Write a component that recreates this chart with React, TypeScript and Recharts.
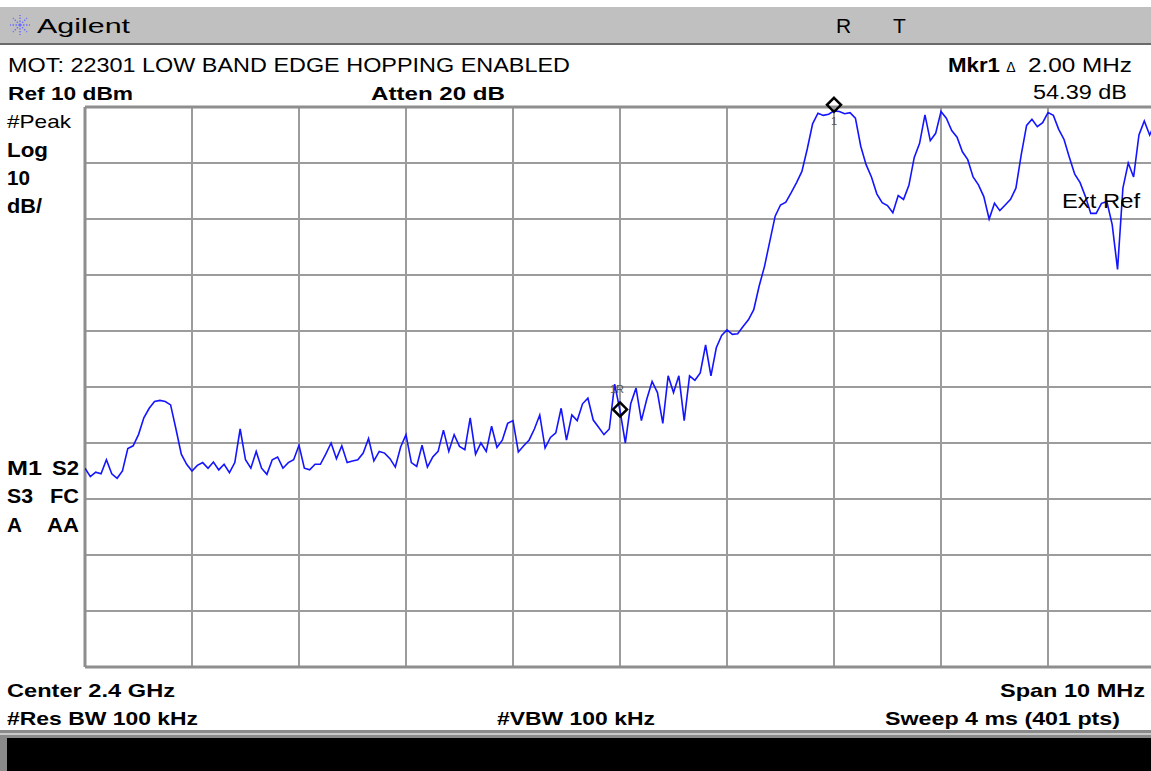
import React from 'react';
import { LineChart, Line, XAxis, YAxis, CartesianGrid, ReferenceDot, ReferenceLine } from 'recharts';

// sweep: center 2.4 GHz, span 10 MHz, read every 0.05 MHz
const startMHz = 2395;
const stepMHz = 0.05;

const traceDbm = [
  -54.5, -56, -55.2, -55.5, -53, -55.5, -56.3, -55, -51, -50.5,
  -48.5, -45.5, -43.8, -42.6, -42.4, -42.6, -43.2, -47.5, -52, -53.8,
  -55, -54, -53.5, -54.5, -53.4, -54.8, -53.8, -55.3, -53.5, -47.5,
  -53, -54.5, -51.5, -54.5, -55.6, -53, -52.5, -54.5, -53.5, -53,
  -50.4, -54.5, -54.8, -53.8, -53.8, -52, -50, -52.8, -50.5, -53.5,
  -53.2, -53, -51.8, -49.2, -53.2, -51.5, -51.8, -52.8, -54.3, -50.7,
  -48.5, -53.5, -54.2, -50.4, -54.3, -52.5, -51.5, -47.7, -51.5, -48.5,
  -50.6, -51.2, -45.5, -52, -50, -51.5, -47, -50.8, -49.5, -46.5,
  -46, -51.6, -50.5, -49.5, -47.5, -45, -50.9, -49, -48.2, -43.8,
  -49.5, -45, -46, -43, -42, -45.9, -47.2, -48.5, -47.5, -39.5,
  -44.2, -50, -43, -40.2, -46, -42.2, -39, -41, -46.5, -38,
  -41, -38, -46, -38, -38.8, -37.5, -32.5, -38, -33, -30.8,
  -29.8, -30.6, -30.5, -29.2, -28, -26.2, -22, -18.5, -14, -9.5,
  -7.5, -7, -5.3, -3.5, -1.5, 2.5, 7, 8.9, 8.5, 8.7,
  9.3, 9.2, 8.8, 9, 8, 3, -0.3, -2.5, -5.5, -7.1,
  -7.6, -8.9, -5.8, -6.5, -4, 1, 3.5, 8.6, 4, 5.3,
  9.2, 8, 5.8, 4.6, 2, 0.6, -2.5, -3.9, -6, -10,
  -7.2, -8.5, -7.5, -6.5, -4.5, 1.5, 6.7, 7.8, 6.5, 7.2,
  9, 8.5, 6, 4.2, 1, -2, -3.5, -6, -9, -9,
  -7.2, -6.9, -11, -19, -4.5, 0, -2.5, 5, 7.5, 5,
  7,
];

const freqTicks = [2395, 2396, 2397, 2398, 2399, 2400, 2401, 2402, 2403, 2404, 2405];
const levelTicks = [-90, -80, -70, -60, -50, -40, -30, -20, -10, 0, 10];
const freqEdges = [2395, 2405];
const levelEdges = [-90, 10];

const refMarker = { freq: 2400, level: -44.0, label: '1R' };
const deltaMarker = { freq: 2402, level: 10.39, label: '1' };

const data = traceDbm.map((level, i) => ({
  freq: +(startMHz + i * stepMHz).toFixed(3),
  level,
}));

const BOLD = '"Liberation Sans Narrow", "Liberation Sans", Arial, sans-serif';
const PLAIN = '"Liberation Sans", Arial, sans-serif';

type TxtProps = {
  x: number;
  y: number;
  w?: number;
  size?: number;
  bold?: boolean;
  anchor?: 'start' | 'middle' | 'end';
  children: React.ReactNode;
};

const Txt = ({ x, y, w, size = 19, bold = false, anchor = 'start', children }: TxtProps) => (
  <text
    x={x}
    y={y}
    fontSize={size}
    fontWeight={bold ? 700 : 400}
    fontFamily={bold ? BOLD : PLAIN}
    textAnchor={anchor}
    fill="#000"
    textLength={w}
    lengthAdjust={w ? 'spacingAndGlyphs' : undefined}
  >
    {children}
  </text>
);

const markerShape = (label: string, above: boolean) => (props: any) => {
  const { cx, cy } = props;
  const r = 7;
  return (
    <g>
      <text
        x={above ? cx - 3 : cx}
        y={above ? cy - 16 : cy + 20}
        fontSize={11}
        fontFamily={PLAIN}
        textAnchor="middle"
        fill="#555"
      >
        {label}
      </text>
      <path
        d={`M${cx},${cy - r} L${cx + r},${cy} L${cx},${cy + r} L${cx - r},${cy} Z`}
        fill="none"
        stroke="#000"
        strokeWidth={2.5}
      />
    </g>
  );
};

const AgilentSpark = () => {
  const rays = [0, 45, 90, 135, 180, 225, 270, 315];
  return (
    <g transform="translate(20,25)">
      {rays.map((a) => (
        <line
          key={a}
          x1={0}
          y1={0}
          x2={10 * Math.cos((a * Math.PI) / 180)}
          y2={10 * Math.sin((a * Math.PI) / 180)}
          stroke="#6b6bff"
          strokeWidth={1.4}
          strokeDasharray="1.5 1.5"
        />
      ))}
    </g>
  );
};

export default function App() {
  return (
    <div
      style={{
        position: 'fixed',
        left: 0,
        top: 0,
        width: 1151,
        height: 771,
        overflow: 'hidden',
        background: '#fff',
      }}
    >
      <svg width={1151} height={771} style={{ position: 'absolute', left: 0, top: 0 }}>
        {/* header bar */}
        <rect x={0} y={7} width={1151} height={36} fill="#c0c0c0" />
        <rect x={0} y={43} width={1151} height={2} fill="#6a6a6a" />
        {/* bottom status bar */}
        <rect x={0} y={730} width={1151} height={41} fill="#8a8a8a" />
        <rect x={0} y={733} width={1151} height={2} fill="#c8c8c8" />
        <rect x={7} y={738} width={1144} height={33} fill="#000" />
      </svg>

      <div style={{ position: 'absolute', left: 83, top: 87 }}>
        <LineChart width={1074} height={582} data={data} margin={{ top: 20, right: 2, bottom: 2, left: 2 }}>
          <XAxis
            dataKey="freq"
            type="number"
            domain={[2395, 2405]}
            ticks={freqTicks}
            hide
            allowDataOverflow
          />
          <YAxis type="number" domain={[-90, 10]} ticks={levelTicks} hide allowDataOverflow />
          <CartesianGrid
            stroke="#9c9c9c"
            strokeWidth={2}
            horizontalValues={levelTicks}
            verticalValues={freqTicks}
          />
          {freqEdges.map((f) => (
            <ReferenceLine key={`fx${f}`} x={f} stroke="#8e8e8e" strokeWidth={3} ifOverflow="visible" />
          ))}
          {levelEdges.map((l) => (
            <ReferenceLine key={`ly${l}`} y={l} stroke="#8e8e8e" strokeWidth={3} ifOverflow="visible" />
          ))}
          <Line
            type="linear"
            dataKey="level"
            stroke="#1414ff"
            strokeWidth={1.6}
            dot={false}
            isAnimationActive={false}
          />
          <ReferenceDot
            x={refMarker.freq}
            y={refMarker.level}
            ifOverflow="visible"
            shape={markerShape(refMarker.label, true)}
          />
          <ReferenceDot
            x={deltaMarker.freq}
            y={deltaMarker.level}
            ifOverflow="visible"
            shape={markerShape(deltaMarker.label, false)}
          />
        </LineChart>
      </div>

      <svg
        width={1151}
        height={771}
        style={{ position: 'absolute', left: 0, top: 0, pointerEvents: 'none' }}
      >
        <AgilentSpark />
        <Txt x={37} y={33} w={93} size={20}>Agilent</Txt>
        <Txt x={836} y={33} size={21}>R</Txt>
        <Txt x={893} y={33} size={21}>T</Txt>

        <Txt x={8} y={72} w={562} size={21}>MOT: 22301 LOW BAND EDGE HOPPING ENABLED</Txt>
        <Txt x={948} y={72} w={52} size={20} bold>Mkr1</Txt>
        <Txt x={1011} y={72} size={14} anchor="middle">Δ</Txt>
        <Txt x={1132} y={72} w={104} size={20} anchor="end">2.00 MHz</Txt>

        <Txt x={8} y={100} w={125} size={19} bold>Ref 10 dBm</Txt>
        <Txt x={371} y={100} w={134} size={19} bold>Atten 20 dB</Txt>
        <Txt x={1127} y={99} w={94} size={20} anchor="end">54.39 dB</Txt>

        <Txt x={7} y={128} w={64} size={19}>#Peak</Txt>
        <Txt x={7} y={157} w={41} size={20} bold>Log</Txt>
        <Txt x={7} y={185} w={23} size={20} bold>10</Txt>
        <Txt x={7} y={213} w={35} size={20} bold>dB/</Txt>

        <Txt x={7} y={475} w={35} size={20} bold>M1</Txt>
        <Txt x={52} y={475} w={27} size={20} bold>S2</Txt>
        <Txt x={7} y={503} w={26} size={20} bold>S3</Txt>
        <Txt x={50} y={503} w={29} size={20} bold>FC</Txt>
        <Txt x={7} y={532} w={15} size={20} bold>A</Txt>
        <Txt x={47} y={532} w={32} size={20} bold>AA</Txt>

        <Txt x={1062} y={208} w={78} size={20}>Ext Ref</Txt>

        <Txt x={7} y={697} w={168} size={19} bold>Center 2.4 GHz</Txt>
        <Txt x={1145} y={697} w={145} size={19} bold anchor="end">Span 10 MHz</Txt>
        <Txt x={7} y={725} w={191} size={19} bold>#Res BW 100 kHz</Txt>
        <Txt x={497} y={725} w={158} size={19} bold>#VBW 100 kHz</Txt>
        <Txt x={1120} y={725} w={235} size={19} bold anchor="end">Sweep 4 ms (401 pts)</Txt>
      </svg>
    </div>
  );
}
